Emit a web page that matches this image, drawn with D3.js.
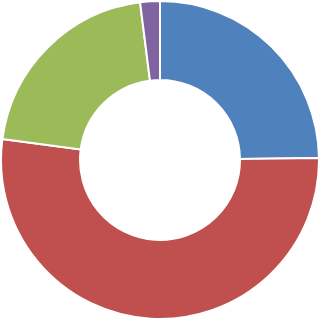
<!DOCTYPE html>
<html><head><meta charset="utf-8">
<script src="https://cdn.jsdelivr.net/npm/d3@7"></script>
<style>html,body{margin:0;padding:0;background:#fff;}</style>
</head><body>
<svg id="c" width="320" height="321"></svg>
<script>
const categories = ["A", "B", "C", "D"];
const values = [24.8, 52.3, 20.9, 2.0];
const colors = ["#4F81BD", "#C0504D", "#9BBB59", "#8064A2"];

const svg = d3.select("#c");
const g = svg.append("g").attr("transform", "translate(160,160)");
const pie = d3.pie().sort(null).value(d => d.v);
const arc = d3.arc().innerRadius(80).outerRadius(159);
const data = categories.map((c, i) => ({c, v: values[i], col: colors[i]}));
g.selectAll("path").data(pie(data)).join("path")
  .attr("d", arc)
  .attr("fill", d => d.data.col)
  .attr("stroke", "#fff")
  .attr("stroke-width", 2);
</script>
</body></html>
